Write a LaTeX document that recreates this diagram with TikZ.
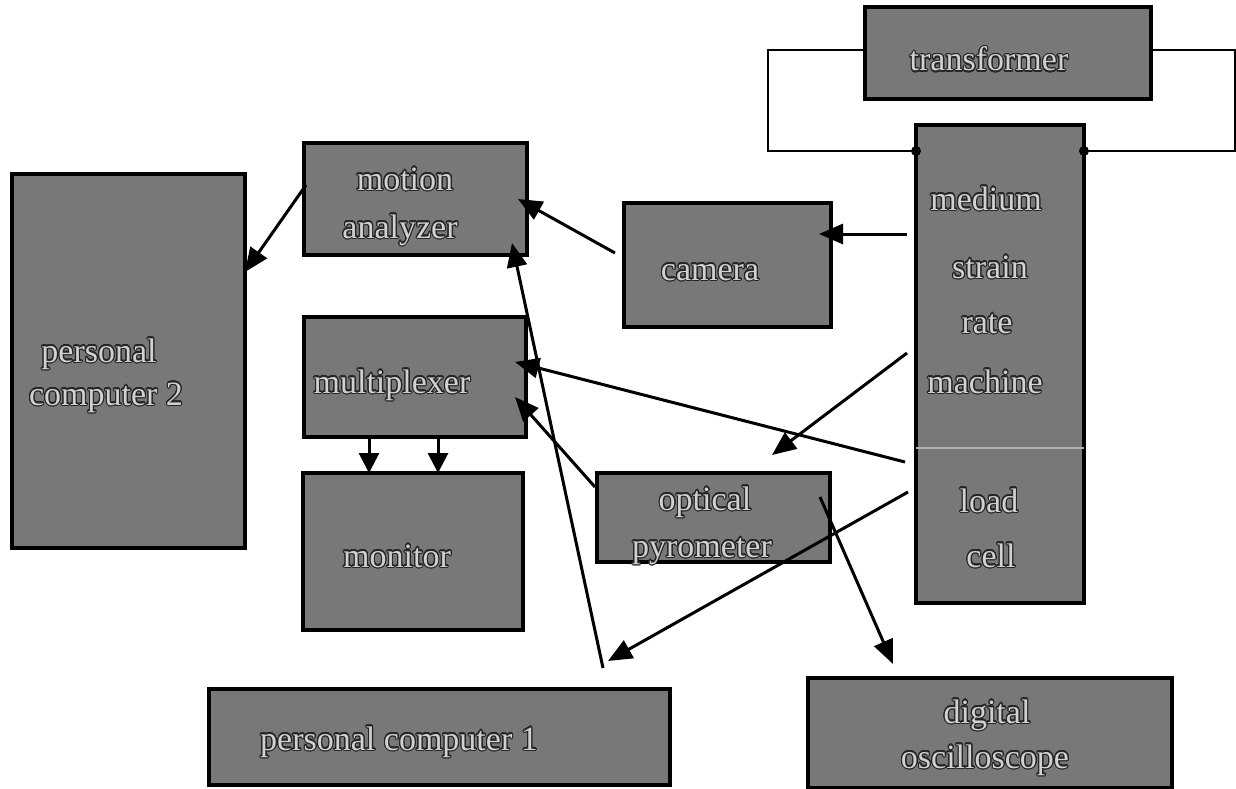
\documentclass[tikz,border=0pt]{standalone}
\usepackage{fontspec}
\setmainfont{Liberation Serif}
\usepackage{contour}
\contourlength{1.1pt}
\contournumber{24}
\usetikzlibrary{arrows.meta}
\definecolor{boxfill}{gray}{0.47}
\definecolor{txtfill}{gray}{0.82}
\tikzset{
  blk/.style={draw=black, line width=4pt, fill=boxfill, inner sep=0pt},
  lbl/.style={anchor=base, inner sep=0pt, font=\fontsize{34}{40}\selectfont, text=txtfill},
  conn/.style={line width=3pt, -{Triangle[length=24pt,width=20pt]}},
  dconn/.style={line width=3pt, -{Triangle[length=20pt,width=20pt]}},
  wire/.style={line width=2.5pt}
}
\newcommand{\ctxt}[1]{\contour{black!85}{#1}}
\begin{document}
\begin{tikzpicture}[x=1pt,y=-1pt]
\useasboundingbox (0,0) rectangle (1236,789);
% boxes
\node[blk, minimum width=286pt, minimum height=92pt] (tr) at (1008,53) {};
\node[blk, minimum width=168pt, minimum height=478pt] (mc) at (1000,364) {};
\node[blk, minimum width=233pt, minimum height=374pt] (pc2) at (128.5,361) {};
\node[blk, minimum width=223pt, minimum height=112pt] (ma) at (415.5,199) {};
\node[blk, minimum width=222pt, minimum height=120pt] (mx) at (415,377) {};
\node[blk, minimum width=220pt, minimum height=157pt] (mo) at (413,551.5) {};
\node[blk, minimum width=233pt, minimum height=89pt] (op) at (713.5,517.5) {};
\node[blk, minimum width=207pt, minimum height=124pt] (ca) at (727.5,265) {};
\node[blk, minimum width=461pt, minimum height=96pt] (pc1) at (439.5,737) {};
\node[blk, minimum width=364pt, minimum height=110pt] (os) at (990,733) {};
% divider in machine box
\draw[line width=1.5pt, white!70!black] (916,448) coordinate (dvl) -- (1084,448) coordinate (dvr);
% labels
\node[lbl] (ttr) at (989,71) {\ctxt{transformer}};
\node[lbl] (tm1) at (986,210) {\ctxt{medium}};
\node[lbl] (tm2) at (990,278) {\ctxt{strain}};
\node[lbl] (tm3) at (987,333) {\ctxt{rate}};
\node[lbl] (tm4) at (985,393) {\ctxt{machine}};
\node[lbl] (tm5) at (989,512) {\ctxt{load}};
\node[lbl] (tm6) at (991,567) {\ctxt{cell}};
\node[lbl] (tp21) at (99,362) {\ctxt{personal}};
\node[lbl] (tp22) at (106,405) {\ctxt{computer 2}};
\node[lbl] (tma1) at (405,190) {\ctxt{motion}};
\node[lbl] (tma2) at (400,238) {\ctxt{analyzer}};
\node[lbl] (tmx) at (392,393) {\ctxt{multiplexer}};
\node[lbl] (tmo) at (397,567) {\ctxt{monitor}};
\node[lbl] (top1) at (705,510) {\ctxt{optical}};
\node[lbl] (top2) at (702,557) {\ctxt{pyrometer}};
\node[lbl] (tca) at (710,280) {\ctxt{camera}};
\node[lbl] (tpc1) at (399,750) {\ctxt{personal computer 1}};
\node[lbl] (tos1) at (987,723) {\ctxt{digital}};
\node[lbl] (tos2) at (985,768) {\ctxt{oscilloscope}};
% transformer wiring
\coordinate (wl1) at (768,50);
\coordinate (wl2) at (768,151);
\coordinate (jl) at (916,151);
\coordinate (wr1) at (1235,50);
\coordinate (wr2) at (1235,151);
\coordinate (jr) at (1084,151);
\draw[wire] (tr.west |- wl1) -- (wl1) -- (wl2) -- (jl);
\draw[wire] (tr.east |- wr1) -- (wr1) -- (wr2) -- (jr);
\fill (jl) circle (5pt);
\fill (jr) circle (5pt);
% connector end points
\coordinate (a1s) at (306,185);  \coordinate (a1e) at (245,272);
\coordinate (a2s) at (615,253);  \coordinate (a2e) at (518,199);
\coordinate (a3s) at (907,234);  \coordinate (a3e) at (819,234);
\coordinate (a4s) at (603,668);  \coordinate (a4e) at (512,243);
\coordinate (a5s) at (905,462);  \coordinate (a5e) at (515,362);
\coordinate (a6s) at (595,487);  \coordinate (a6e) at (515,397);
\coordinate (a7s) at (907,353);  \coordinate (a7e) at (772,455);
\coordinate (a8s) at (908,492);  \coordinate (a8e) at (608,661);
\coordinate (a9s) at (820,497);  \coordinate (a9e) at (893,664);
\coordinate (b1s) at (369,437);  \coordinate (b1e) at (369,473);
\coordinate (b2s) at (438,437);  \coordinate (b2e) at (438,473);
% connectors
\draw[conn] (a1s) -- (a1e);
\draw[conn] (a2s) -- (a2e);
\draw[conn] (a3s) -- (a3e);
\draw[conn] (a4s) -- (a4e);
\draw[conn] (a5s) -- (a5e);
\draw[conn] (a6s) -- (a6e);
\draw[conn] (a7s) -- (a7e);
\draw[conn] (a8s) -- (a8e);
\draw[conn] (a9s) -- (a9e);
\draw[dconn] (b1s) -- (b1e);
\draw[dconn] (b2s) -- (b2e);
\end{tikzpicture}
\end{document}
